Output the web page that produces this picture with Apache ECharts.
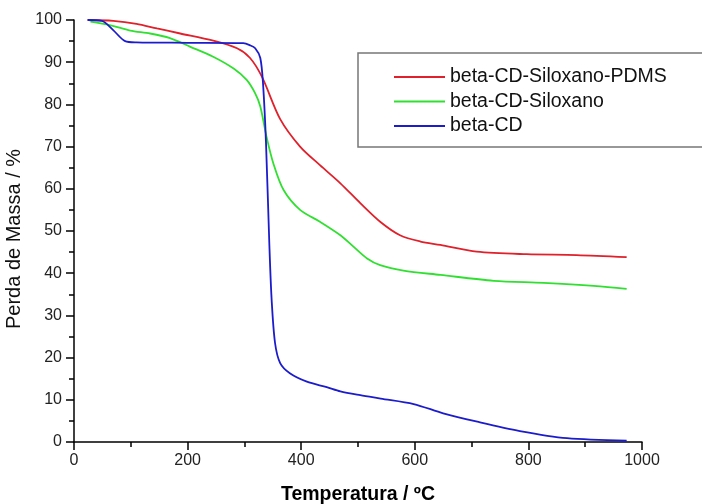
<!DOCTYPE html>
<html>
<head>
<meta charset="utf-8">
<script src="https://cdn.jsdelivr.net/npm/echarts@6/dist/echarts.min.js"></script>
<style>
  html, body { margin: 0; padding: 0; background: #fff; }
  #chart { width: 702px; height: 504px; }
</style>
</head>
<body>
<div id="chart"></div>
<script>
// TGA curves
const seriesNames = ['beta-CD-Siloxano-PDMS', 'beta-CD-Siloxano', 'beta-CD']

const tempPdms = [24, 69, 110, 146, 187, 245, 287, 310, 331, 363, 398, 433, 469, 504, 539, 574, 610, 645, 709, 797, 885, 973]
const massPdms = [100, 99.8, 99.1, 98, 96.8, 95.1, 93.3, 91, 86.5, 76.5, 70, 65.6, 61.3, 56.6, 52.2, 49, 47.5, 46.7, 45.1, 44.5, 44.3, 43.8]

const tempSilox = [29, 63, 99, 134, 169, 204, 245, 281, 304, 319, 328, 339, 351, 369, 398, 433, 469, 492, 516, 539, 580, 645, 739, 827, 915, 973]
const massSilox = [99.6, 98.8, 97.5, 96.8, 95.7, 93.7, 91.3, 88.5, 85.8, 82.6, 79.5, 72.3, 66, 59.7, 55, 52.2, 49, 46.3, 43.5, 41.9, 40.6, 39.6, 38.2, 37.7, 37, 36.3]

const tempCd = [24, 49, 69, 90, 110, 200, 298, 310, 319, 328, 333, 338, 344, 348, 354, 363, 380, 410, 445, 469, 504, 540, 598, 650, 710, 785, 868, 973]
const massCd = [100, 99.8, 97.6, 95, 94.7, 94.6, 94.5, 94, 93.3, 91, 84.5, 71, 46.5, 33.6, 23.4, 18.7, 16.3, 14.3, 13, 12, 11.1, 10.3, 9, 6.8, 4.8, 2.6, 0.9, 0.3]

const colors = ['#e0202a', '#30e030', '#1c1ccc']

function pairs (xs, ys) {
  return xs.map((x, i) => [x, ys[i]])
}

const chart = echarts.init(document.getElementById('chart'))

const axisCommon = {
  axisLine: { lineStyle: { color: '#000', width: 1.5 } },
  axisTick: { length: 8, lineStyle: { color: '#000', width: 1.5 } },
  minorTick: { show: true, splitNumber: 2, length: 5, lineStyle: { color: '#000', width: 1.5 } },
  splitLine: { show: false },
  axisLabel: { color: '#222', fontSize: 16, fontFamily: 'Liberation Sans', formatter: v => String(v) }
}

const option = {
  animation: false,
  backgroundColor: '#fff',
  grid: { left: 74, right: 60, top: 20, bottom: 62, outerBoundsMode: 'none' },
  graphic: [{
    type: 'rect',
    shape: { x: 358, y: 53, width: 400, height: 94 },
    style: { fill: 'none', stroke: '#777', lineWidth: 1.5 }
  }],
  legend: {
    data: seriesNames,
    orient: 'vertical',
    left: 389,
    top: 62,
    icon: 'rect',
    itemWidth: 51,
    itemHeight: 2,
    itemGap: 4.5,
    textStyle: { color: '#111', fontSize: 19.5, lineHeight: 20, fontFamily: 'Liberation Sans' }
  },
  xAxis: Object.assign({}, axisCommon, {
    type: 'value',
    min: 0,
    max: 1000,
    interval: 200,
    name: 'Temperatura / ºC',
    nameLocation: 'middle',
    nameGap: 43,
    nameTextStyle: { color: '#000', fontSize: 19.5, fontWeight: 'bold', fontFamily: 'Liberation Sans' },
    axisLabel: Object.assign({}, axisCommon.axisLabel, { margin: 11 })
  }),
  yAxis: Object.assign({}, axisCommon, {
    type: 'value',
    min: 0,
    max: 100,
    interval: 10,
    name: 'Perda de Massa / %',
    nameLocation: 'middle',
    nameGap: 44,
    nameTextStyle: { color: '#111', fontSize: 20, fontFamily: 'Liberation Sans', padding: [0, 16, 0, 0] },
    axisLabel: Object.assign({}, axisCommon.axisLabel, { margin: 12 })
  }),
  series: [
    { name: seriesNames[0], data: pairs(tempPdms, massPdms), color: colors[0] },
    { name: seriesNames[1], data: pairs(tempSilox, massSilox), color: colors[1] },
    { name: seriesNames[2], data: pairs(tempCd, massCd), color: colors[2] }
  ].map(s => Object.assign({
    type: 'line',
    smooth: 0.3,
    showSymbol: false,
    symbol: 'none',
    lineStyle: { width: 1.8 }
  }, s))
}

chart.setOption(option)
</script>
</body>
</html>
